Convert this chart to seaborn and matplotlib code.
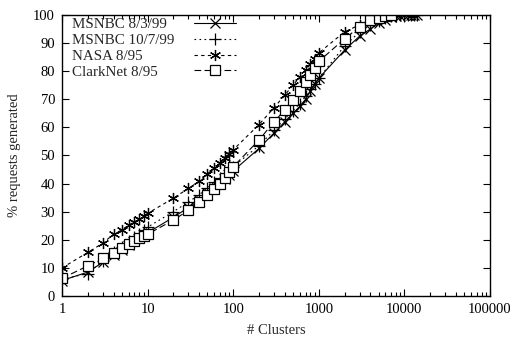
import numpy as np
import pandas as pd
import matplotlib
matplotlib.use("Agg")
import matplotlib.pyplot as plt
import seaborn as sns

# Cluster counts at which the cumulative share of requests was measured
x_common = [1, 2, 3, 4, 5, 6, 7, 8, 9, 10,
            20, 30, 40, 50, 60, 70, 80, 90, 100,
            200, 300, 400, 500, 600, 700, 800, 900, 1000,
            2000, 3000, 4000, 5000, 6000, 7000]
x_msnbc = x_common + [8000, 9000, 10000, 11000, 12000, 13000, 14000]

msnbc_0803 = [5.5, 8.5, 12.0, 14.5, 16.5, 18.0, 19.5, 20.5, 21.5, 22.5,
              28.0, 31.5, 34.0, 36.5, 38.5, 40.0, 41.5, 43.0, 44.5,
              52.5, 58.0, 62.0, 65.0, 67.5, 70.0, 73.0, 75.5, 77.5,
              87.5, 92.5, 95.0, 97.0, 98.3, 99.2,
              99.6, 99.8, 99.9, 100.0, 100.0, 100.0, 100.0]
msnbc_1007 = [6.0, 8.0, 12.5, 15.5, 17.5, 19.5, 21.0, 22.0, 23.5, 24.5,
              30.0, 33.5, 36.0, 38.5, 40.5, 42.0, 43.5, 45.0, 46.0,
              53.5, 59.0, 63.0, 66.0, 68.5, 71.0, 73.5, 75.5, 77.5,
              89.0, 94.0, 96.5, 98.0, 99.0, 99.5,
              99.8, 99.9, 100.0, 100.0, 100.0, 100.0, 100.0]
nasa_0895 = [10.0, 15.5, 18.8, 22.0, 23.5, 25.2, 26.4, 27.3, 28.3, 29.4,
             34.8, 38.3, 40.8, 43.5, 45.5, 47.3, 49.0, 50.5, 52.0,
             61.0, 67.0, 71.5, 75.0, 78.0, 80.5, 82.5, 84.5, 86.5,
             94.0, 96.5, 98.2, 99.0, 99.6, 100.0]
clarknet_0895 = [6.3, 10.7, 13.4, 15.4, 17.0, 18.5, 19.7, 20.5, 21.4, 22.0,
                 27.0, 30.5, 33.5, 36.0, 38.0, 40.0, 42.0, 44.0, 46.0,
                 55.5, 62.0, 66.2, 69.8, 73.0, 76.0, 78.5, 81.0, 83.5,
                 91.5, 95.8, 98.2, 99.0, 99.7, 100.0]

series_names = ["MSNBC 8/3/99", "MSNBC 10/7/99", "NASA 8/95", "ClarkNet 8/95"]
series_x = [x_msnbc, x_msnbc, x_common, x_common]
series_y = [msnbc_0803, msnbc_1007, nasa_0895, clarknet_0895]

sns.set_theme(style="ticks")
plt.rcParams["font.family"] = ["Liberation Serif", "DejaVu Serif"]

fig = plt.figure(figsize=(5.13, 3.41), dpi=100)
ax = fig.add_axes([0.1209, 0.132, 0.8342, 0.824])

# Per-trace line and marker styling
styles = [
    dict(marker="x", linestyle="-", markersize=7),
    dict(marker="+", linestyle=(0, (1.5, 3)), markersize=8),
    dict(marker=(6, 2, 0), linestyle=(0, (3, 3)), markersize=8),
    dict(marker="s", linestyle=(0, (6, 3)), markersize=7),
]

for name, xs, ys, st in zip(series_names, series_x, series_y, styles):
    d = pd.DataFrame({"clusters": xs, "pct": ys})
    sns.lineplot(data=d, x="clusters", y="pct", ax=ax, label=name,
                 color="black", linewidth=0.8, errorbar=None,
                 markeredgecolor="black", markerfacecolor="white",
                 markeredgewidth=0.9, **st)

ax.set_xscale("log")
ax.set_xlim(1, 100000)
ax.set_ylim(0, 100)
ax.set_yticks(range(0, 101, 10))
ax.set_xticks([1, 10, 100, 1000, 10000, 100000])
ax.set_xticklabels(["1", "10", "100", "1000", "10000", "100000"])

ax.tick_params(axis="both", which="both", direction="in", top=True, right=True,
               labelsize=10.5, colors="black", width=0.8)
ax.tick_params(axis="both", which="major", length=5, pad=5)
ax.tick_params(axis="x", which="minor", length=3)
for s in ax.spines.values():
    s.set_visible(True)
    s.set_linewidth(1.0)
    s.set_color("black")

ax.set_xlabel("# Clusters", fontsize=10.5, labelpad=6)
ax.set_ylabel("% requests generated", fontsize=10.5, labelpad=9)

leg = ax.legend(loc="upper left", bbox_to_anchor=(0.02, 0.995), frameon=False,
                markerfirst=False, fontsize=10.8, handlelength=2.8,
                handletextpad=1.3, labelspacing=0.15, borderpad=0.1,
                borderaxespad=0.0)

# Keep legend labels left-aligned while the line samples stay in one column
fig.canvas.draw()
renderer = fig.canvas.get_renderer()
rows = leg._legend_handle_box.get_children()[0].get_children()
widths = [t.get_window_extent(renderer).width for t in leg.get_texts()]
maxw = max(widths)
for row, w in zip(rows, widths):
    row.sep = row.sep + (maxw - w) * 72.0 / fig.dpi

fig.savefig("out.png", dpi=100)
